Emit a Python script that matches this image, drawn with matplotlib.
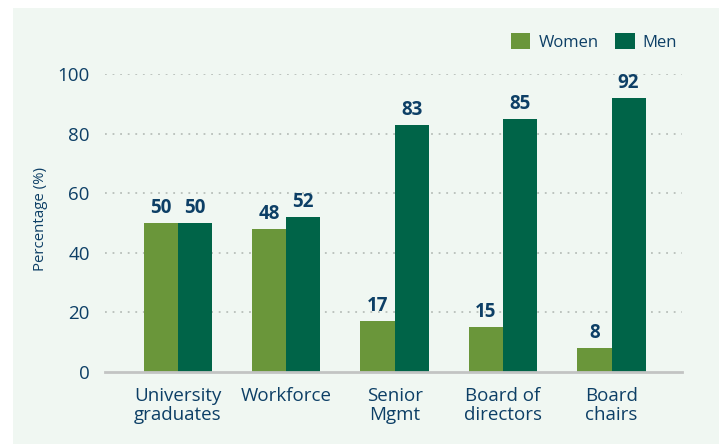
import matplotlib
matplotlib.use("Agg")
import matplotlib.pyplot as plt
import numpy as np

categories = ["University\ngraduates", "Workforce", "Senior\nMgmt", "Board of\ndirectors", "Board\nchairs"]
women = [50, 48, 17, 15, 8]
men = [50, 52, 83, 85, 92]
yticks = [0, 20, 40, 60, 80, 100]

C_WOMEN = "#6a963a"
C_MEN = "#006448"
C_TEXT = "#0d3f66"
C_BG = "#f0f7f2"

plt.rcParams['font.family'] = ['Open Sans', 'DejaVu Sans']

W, H = 719, 444
fig = plt.figure(figsize=(W/100, H/100), dpi=100)
fig.patch.set_facecolor("white")

bg = fig.add_axes([13/W, 0, 1 - 13/W, 1 - 8/H], zorder=-10)
bg.set_facecolor(C_BG)
bg.set_xticks([]); bg.set_yticks([])
for s in bg.spines.values():
    s.set_visible(False)

ax = fig.add_axes([105/W, 1 - 372/H, (682-105)/W, (372-74)/H], zorder=1)
ax.set_facecolor("none")

x = np.arange(len(categories))
bw = 0.315
b1 = ax.bar(x - bw/2, women, bw, color=C_WOMEN, label="Women", zorder=3)
b2 = ax.bar(x + bw/2, men, bw, color=C_MEN, label="Men", zorder=3)

for bars, vals in ((b1, women), (b2, men)):
    for r, v in zip(bars, vals):
        ax.annotate(f"{v}", (r.get_x() + r.get_width()/2, v), xytext=(0, 3.5),
                    textcoords="offset points", ha="center", va="bottom",
                    fontsize=13.5, fontweight="bold", color=C_TEXT)

ax.set_xlim(-0.67, 4.65)
ax.set_ylim(0, 100)
ax.set_yticks(yticks)
ax.set_yticklabels([str(t) for t in yticks])
ax.set_xticks(x)
ax.set_xticklabels(categories, linespacing=1.08)
ax.tick_params(axis="y", length=0, pad=11, labelsize=13.5, labelcolor=C_TEXT)
ax.tick_params(axis="x", length=0, pad=11, labelsize=13.5, labelcolor=C_TEXT)

for t in yticks[1:]:
    ax.axhline(t, color="#b8bfba", linestyle=(0, (1, 3.2)), linewidth=1.3, zorder=1)

for s in ("top", "right", "left"):
    ax.spines[s].set_visible(False)
ax.spines["bottom"].set_color("#c2c4c3")
ax.spines["bottom"].set_linewidth(2)
ax.spines["bottom"].set_zorder(4)

fig.text(40/W, 1 - 219/H, "Percentage (%)", rotation=90, ha="center", va="center",
         fontsize=10.8, color=C_TEXT)

leg = ax.legend(loc="upper right", bbox_to_anchor=(684/W, 1 - 26/H), bbox_transform=fig.transFigure,
                ncol=2, frameon=False, fontsize=12, handlelength=1.15, handleheight=1.15,
                handletextpad=0.5, columnspacing=1.0, borderaxespad=0)
for t in leg.get_texts():
    t.set_color(C_TEXT)

fig.savefig("out.png", dpi=100, facecolor="white")
